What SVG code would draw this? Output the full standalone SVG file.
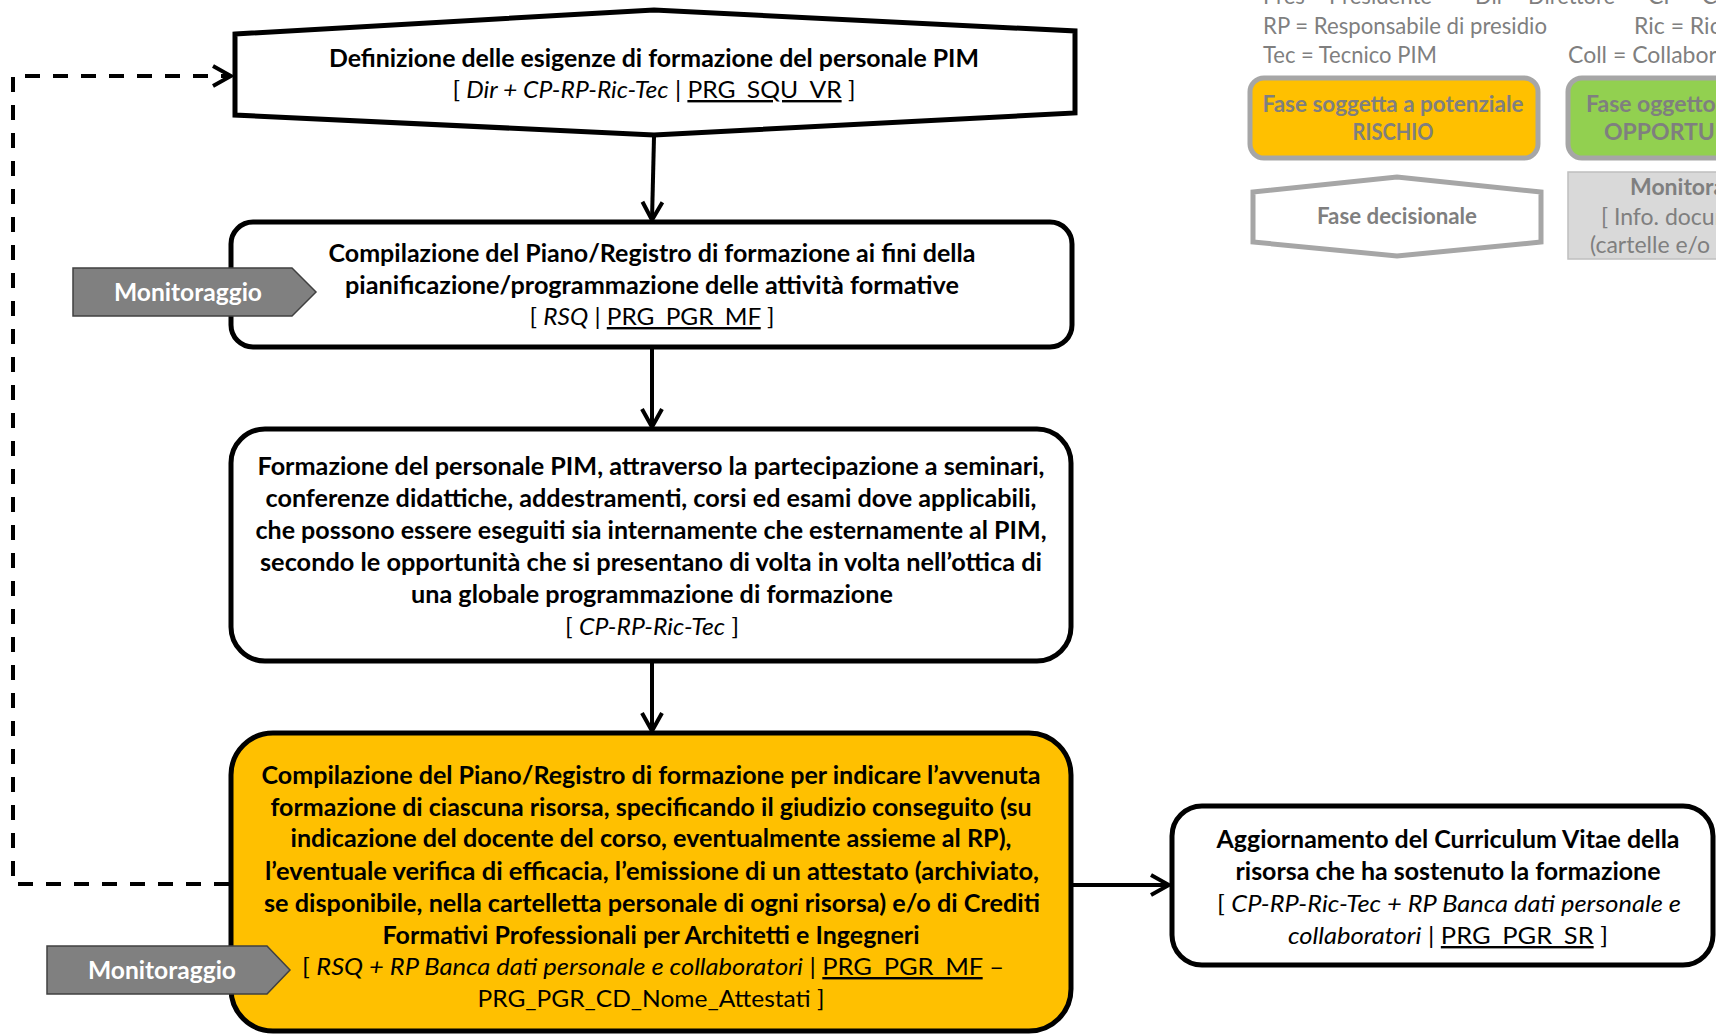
<svg xmlns="http://www.w3.org/2000/svg" width="1716" height="1036" viewBox="0 0 1716 1036">
  <style>
    .bg { fill: #ffffff; }
    .box { fill: #ffffff; stroke: #000000; stroke-width: 5; }
    .risk { fill: #FFC000; stroke: #000000; stroke-width: 5; }
    .t { font-family: Lato, "Liberation Sans", sans-serif; font-size: 24px; fill: #000000; text-anchor: middle; }
    .b { font-weight: bold; }
    .i { font-style: italic; }
    .u { text-decoration: underline; }
    .lg { font-family: Lato, "Liberation Sans", sans-serif; font-size: 23px; fill: #7F7F7F; }
    .lgb { font-family: Lato, "Liberation Sans", sans-serif; font-size: 23px; fill: #7F7F7F; font-weight: bold; }
    .lgbox { stroke: #A6A6A6; stroke-width: 5; }
    .tag { fill: #808080; stroke: #404040; stroke-width: 1.5; }
    .tagt { font-family: Lato, "Liberation Sans", sans-serif; font-size: 25px; font-weight: bold; fill: #ffffff; text-anchor: middle; }
    .conn { fill: none; stroke: #000000; stroke-width: 4; }
    .dash { stroke-dasharray: 15 13; }
  </style>
  <defs>
    <marker id="arr" markerUnits="userSpaceOnUse" markerWidth="24" markerHeight="24" viewBox="0 0 24 24" refX="21" refY="12" orient="auto">
      <path d="M3,2 L21,12 L3,22" fill="none" stroke="#000000" stroke-width="4"/>
    </marker>
  </defs>
  <rect class="bg" x="0" y="0" width="1716" height="1036"/>

  <!-- legend -->
  <g id="legend">
    <text class="lg" x="1263" y="4" textLength="169" lengthAdjust="spacingAndGlyphs">Pres = Presidente</text>
    <text class="lg" x="1475" y="4" textLength="140" lengthAdjust="spacingAndGlyphs">Dir = Direttore</text>
    <text class="lg" x="1648" y="4">CP = Ca</text>
    <text class="lg" x="1263" y="34" textLength="284" lengthAdjust="spacingAndGlyphs">RP = Responsabile di presidio</text>
    <text class="lg" x="1634" y="34">Ric = Ricercatore</text>
    <text class="lg" x="1263" y="63" textLength="174" lengthAdjust="spacingAndGlyphs">Tec = Tecnico PIM</text>
    <text class="lg" x="1568" y="63">Coll = Collaboratore</text>

    <g id="legend-risk">
      <rect class="lgbox" x="1250" y="78" width="288" height="80" rx="14" fill="#FFC000"/>
      <text class="lgb" x="1393" y="112" text-anchor="middle" textLength="261" lengthAdjust="spacingAndGlyphs">Fase soggetta a potenziale</text>
      <text class="lgb" x="1393" y="140" text-anchor="middle" textLength="81" lengthAdjust="spacingAndGlyphs">RISCHIO</text>
    </g>
    <g id="legend-opportunity">
      <rect class="lgbox" x="1568" y="78" width="200" height="80" rx="14" fill="#92D050"/>
      <text class="lgb" x="1586" y="112">Fase oggetto di potenziale</text>
      <text class="lgb" x="1604" y="140">OPPORTUNITÀ</text>
    </g>
    <g id="legend-decision">
      <path class="lgbox" d="M1253,192 L1397,177 L1541,192 L1541,242 L1397,256 L1253,242 Z" fill="#ffffff"/>
      <text class="lgb" x="1397" y="224" text-anchor="middle" textLength="160" lengthAdjust="spacingAndGlyphs">Fase decisionale</text>
    </g>
    <g id="legend-monitoring">
      <rect x="1568" y="172" width="160" height="87" fill="#D9D9D9" stroke="#BFBFBF" stroke-width="1.5"/>
      <text class="lgb" x="1630" y="195">Monitoraggio</text>
      <text class="lg" x="1601" y="225">[ Info. documentate</text>
      <text class="lg" x="1590" y="253">(cartelle e/o SharePoint)</text>
    </g>
  </g>

  <!-- connectors -->
  <g id="connectors">
    <path class="conn" d="M654,137 L652,220" marker-end="url(#arr)"/>
    <path class="conn" d="M652,349 L652,427" marker-end="url(#arr)"/>
    <path class="conn" d="M652,663 L652,731" marker-end="url(#arr)"/>
    <path class="conn" d="M1073,885 L1169,885" marker-end="url(#arr)"/>
    <path class="conn dash" d="M229,884 L13,884 L13,76 L231,76" marker-end="url(#arr)"/>
  </g>

  <!-- decision: training needs -->
  <g id="n-definizione">
    <path class="box" d="M235,34 L654,10 L1075,31 L1075,113 L654,135 L235,115 Z"/>
    <text class="t b" x="654" y="67" textLength="650" lengthAdjust="spacingAndGlyphs">Definizione delle esigenze di formazione del personale PIM</text>
    <text class="t" x="654" y="98" textLength="403" lengthAdjust="spacingAndGlyphs">[ <tspan class="i">Dir + CP-RP-Ric-Tec</tspan> | <tspan class="u">PRG_SQU_VR</tspan> ]</text>
  </g>

  <!-- planning -->
  <g id="n-pianificazione">
    <rect class="box" x="231" y="222" width="841" height="125" rx="22"/>
    <text class="t b" x="652" y="262" textLength="647" lengthAdjust="spacingAndGlyphs">Compilazione del Piano/Registro di formazione ai fini della</text>
    <text class="t b" x="652" y="294" textLength="614" lengthAdjust="spacingAndGlyphs">pianificazione/programmazione delle attività formative</text>
    <text class="t" x="652" y="325" textLength="245" lengthAdjust="spacingAndGlyphs">[ <tspan class="i">RSQ</tspan> | <tspan class="u">PRG_PGR_MF</tspan> ]</text>
  </g>

  <!-- training delivery -->
  <g id="n-formazione">
    <rect class="box" x="231" y="429" width="840" height="232" rx="34"/>
    <text class="t b" x="651" y="475" textLength="787" lengthAdjust="spacingAndGlyphs">Formazione del personale PIM, attraverso la partecipazione a seminari,</text>
    <text class="t b" x="651" y="507" textLength="771" lengthAdjust="spacingAndGlyphs">conferenze didattiche, addestramenti, corsi ed esami dove applicabili,</text>
    <text class="t b" x="651" y="539" textLength="791" lengthAdjust="spacingAndGlyphs">che possono essere eseguiti sia internamente che esternamente al PIM,</text>
    <text class="t b" x="651" y="571" textLength="782" lengthAdjust="spacingAndGlyphs">secondo le opportunità che si presentano di volta in volta nell’ottica di</text>
    <text class="t b" x="652" y="603" textLength="482" lengthAdjust="spacingAndGlyphs">una globale programmazione di formazione</text>
    <text class="t" x="652" y="635" textLength="174" lengthAdjust="spacingAndGlyphs">[ <tspan class="i">CP-RP-Ric-Tec</tspan> ]</text>
  </g>

  <!-- registration of completed training (risk phase) -->
  <g id="n-registrazione">
    <rect class="risk" x="231" y="733" width="840" height="298" rx="42"/>
    <text class="t b" x="651" y="784" textLength="779" lengthAdjust="spacingAndGlyphs">Compilazione del Piano/Registro di formazione per indicare l’avvenuta</text>
    <text class="t b" x="651" y="816" textLength="761" lengthAdjust="spacingAndGlyphs">formazione di ciascuna risorsa, specificando il giudizio conseguito (su</text>
    <text class="t b" x="651" y="847" textLength="721" lengthAdjust="spacingAndGlyphs">indicazione del docente del corso, eventualmente assieme al RP),</text>
    <text class="t b" x="652" y="880" textLength="774" lengthAdjust="spacingAndGlyphs">l’eventuale verifica di efficacia, l’emissione di un attestato (archiviato,</text>
    <text class="t b" x="652" y="912" textLength="776" lengthAdjust="spacingAndGlyphs">se disponibile, nella cartelletta personale di ogni risorsa) e/o di Crediti</text>
    <text class="t b" x="651" y="944" textLength="537" lengthAdjust="spacingAndGlyphs">Formativi Professionali per Architetti e Ingegneri</text>
    <text class="t" x="653" y="975" textLength="702" lengthAdjust="spacingAndGlyphs">[ <tspan class="i">RSQ + RP Banca dati personale e collaboratori</tspan> | <tspan class="u">PRG_PGR_MF</tspan> –</text>
    <text class="t" x="651" y="1007" textLength="347" lengthAdjust="spacingAndGlyphs">PRG_PGR_CD_Nome_Attestati ]</text>
  </g>

  <!-- CV update -->
  <g id="n-curriculum">
    <rect class="box" x="1172" y="806" width="541" height="159" rx="30"/>
    <text class="t b" x="1448" y="848" textLength="463" lengthAdjust="spacingAndGlyphs">Aggiornamento del Curriculum Vitae della</text>
    <text class="t b" x="1448" y="880" textLength="425" lengthAdjust="spacingAndGlyphs">risorsa che ha sostenuto la formazione</text>
    <text class="t" x="1449" y="912" textLength="464" lengthAdjust="spacingAndGlyphs">[ <tspan class="i">CP-RP-Ric-Tec + RP Banca dati personale e</tspan></text>
    <text class="t" x="1448" y="944" textLength="320" lengthAdjust="spacingAndGlyphs"><tspan class="i">collaboratori</tspan> | <tspan class="u">PRG_PGR_SR</tspan> ]</text>
  </g>

  <!-- monitoring tags -->
  <g id="tag-monitoraggio-1">
    <path class="tag" d="M73,268 L292,268 L316,292 L292,316 L73,316 Z"/>
    <text class="tagt" x="188" y="301" textLength="148" lengthAdjust="spacingAndGlyphs">Monitoraggio</text>
  </g>
  <g id="tag-monitoraggio-2">
    <path class="tag" d="M47,946 L267,946 L290,970 L267,994 L47,994 Z"/>
    <text class="tagt" x="162" y="979" textLength="148" lengthAdjust="spacingAndGlyphs">Monitoraggio</text>
  </g>
</svg>
